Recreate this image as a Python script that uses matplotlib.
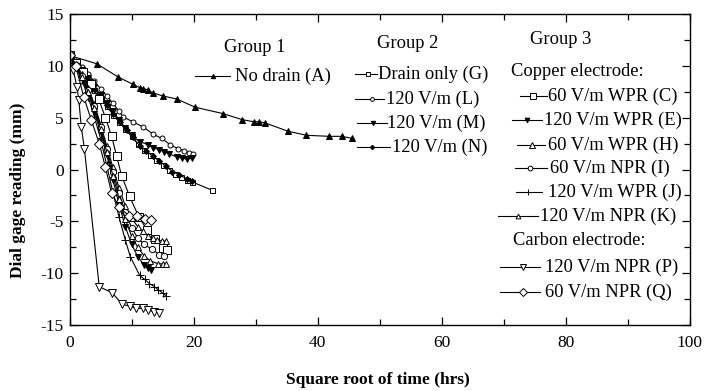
import matplotlib
matplotlib.use("Agg")
import matplotlib.pyplot as plt
from matplotlib.lines import Line2D
from matplotlib.ticker import MultipleLocator

plt.rcParams['font.family'] = ['Liberation Serif', 'DejaVu Serif']
plt.rcParams['axes.unicode_minus'] = False

# ---------------- data (square root of time in hrs, dial gage reading in mm) ----------------
A_x = [0, 4.4, 7.9, 10.3, 11.3, 11.9, 12.6, 13.4, 15.0, 17.3, 20.3, 24.7, 27.9, 29.8, 30.6, 31.5, 35.2, 38.2, 41.9, 43.9, 45.6]
A_y = [11.0, 10.2, 8.9, 8.2, 7.9, 7.8, 7.7, 7.4, 7.1, 6.8, 6.0, 5.4, 4.8, 4.6, 4.6, 4.5, 3.7, 3.3, 3.2, 3.2, 3.0]

G_x = [0, 1, 2, 3, 4, 5, 6, 7, 8, 9, 10, 11, 12, 13, 14, 15, 16, 17, 18, 19, 19.8, 23.0]
G_y = [11.0, 10.1, 9.3, 8.5, 7.7, 6.9, 6.1, 5.3, 4.6, 3.9, 3.2, 2.5, 1.9, 1.4, 0.9, 0.4, 0.0, -0.4, -0.7, -1.0, -1.2, -2.0]
L_x = [0, 1, 2, 3, 4, 5, 6, 7, 8, 8.6, 10.2, 11.9, 13.5, 14.9, 16.2, 17.5, 18.5, 19.3, 19.9]
L_y = [11.0, 10.5, 9.9, 9.2, 8.5, 7.8, 7.1, 6.4, 5.6, 5.1, 4.6, 4.1, 3.4, 3.0, 2.4, 2.0, 1.8, 1.6, 1.5]
M_x = [0, 1, 2, 3, 4, 5, 6, 7, 8, 9, 10, 11.3, 12.6, 13.5, 14.5, 15.3, 16.1, 17.4, 18.2, 18.9, 19.7]
M_y = [11.0, 10.3, 9.6, 8.8, 8.0, 7.2, 6.4, 5.6, 4.8, 4.0, 3.3, 2.7, 2.4, 2.1, 1.9, 1.7, 1.5, 1.2, 1.1, 1.0, 1.1]
N_x = [0, 1, 2, 3, 4, 5, 6, 7, 8.1, 9.2, 10.2, 11.3, 12.4, 13.4, 14.5, 15.6, 16.6, 17.7, 18.9, 19.7]
N_y = [11.0, 10.3, 9.5, 8.6, 7.8, 7.0, 6.2, 5.4, 4.6, 3.8, 3.1, 2.3, 1.8, 1.3, 0.8, 0.3, -0.2, -0.5, -0.9, -1.1]

C_x = [0, 1, 2.2, 3.5, 4.7, 5.8, 6.8, 7.6, 8.4, 9.7, 11.2, 12.5, 13.8, 15.1, 15.7]
C_y = [11.0, 10.3, 9.4, 8.2, 6.8, 5.0, 3.2, 1.3, -0.6, -2.6, -4.6, -5.8, -6.7, -7.6, -7.8]
E_x = [0, 1, 2, 3, 4, 5, 6, 7, 8, 9, 10, 11, 12, 12.6, 13.1]
E_y = [11.0, 10.0, 8.8, 7.3, 5.6, 3.6, 1.4, -1.0, -3.4, -5.5, -7.2, -8.4, -9.2, -9.5, -9.7]
H_x = [0, 1, 2, 3, 4, 5, 6, 7, 8, 9, 10, 11, 11.8, 12.6, 13.4, 14.1, 14.9, 15.6]
H_y = [11.0, 10.2, 9.2, 7.9, 6.3, 4.4, 2.3, 0.2, -1.8, -3.5, -4.7, -5.5, -5.9, -6.4, -6.6, -6.8, -6.9, -6.9]
I_x = [0, 1, 2, 3, 4, 5, 6, 7, 8, 9, 10, 11, 12, 13.3, 14.5, 15.3]
I_y = [11.0, 10.1, 9.0, 7.7, 6.1, 4.1, 2.0, -0.2, -2.3, -4.1, -5.6, -6.6, -7.2, -7.7, -8.2, -8.3]
J_x = [0, 1, 2, 3, 4, 5, 6, 7, 8, 9, 9.8, 11.3, 12.1, 12.9, 13.7, 14.3, 15.0, 15.6]
J_y = [11.0, 9.9, 8.6, 7.0, 5.1, 3.0, 0.4, -2.2, -4.6, -6.8, -8.4, -10.2, -10.6, -11.0, -11.3, -11.6, -11.9, -12.2]
K_x = [0, 1, 2, 3, 4, 5, 6, 7, 8, 9, 10, 11, 12, 13, 14.3, 15.0, 15.6]
K_y = [11.0, 10.0, 8.9, 7.5, 5.9, 3.9, 1.7, -0.6, -2.8, -4.8, -6.4, -7.5, -8.3, -8.8, -9.1, -9.1, -9.1]
P_x = [0, 0.6, 1.2, 1.5, 1.9, 2.4, 4.8, 6.9, 8.5, 9.8, 10.8, 11.8, 12.7, 13.7, 14.5]
P_y = [11.0, 9.6, 8.0, 6.7, 4.1, 2.0, -11.3, -11.9, -13.0, -13.2, -13.4, -13.4, -13.6, -13.7, -13.8]
Q_x = [0, 1, 2.3, 3.5, 4.8, 5.8, 6.8, 8.0, 9.6, 10.9, 12.1, 13.2]
Q_y = [11.0, 10.0, 7.0, 4.8, 2.5, 0.2, -2.3, -3.6, -4.5, -4.5, -4.8, -4.9]

x_ticks = [0, 20, 40, 60, 80, 100]
y_ticks = [-15, -10, -5, 0, 5, 10, 15]

group_titles = ["Group 1", "Group 2", "Group 3"]
sub_titles = ["Copper electrode:", "Carbon electrode:"]
labels = {
    "A": "No drain (A)",
    "G": "Drain only (G)",
    "L": "120 V/m (L)",
    "M": "120 V/m (M)",
    "N": "120 V/m (N)",
    "C": "60 V/m WPR (C)",
    "E": "120 V/m WPR (E)",
    "H": "60 V/m WPR (H)",
    "I": "60 V/m NPR (I)",
    "J": "120 V/m WPR (J)",
    "K": "120 V/m NPR (K)",
    "P": "120 V/m NPR (P)",
    "Q": "60 V/m NPR (Q)",
}

# ---------------- styles ----------------
series = {
    "A": (A_x, A_y, dict(marker='^', ms=4.2, mfc='black')),
    "G": (G_x, G_y, dict(marker='s', ms=3.6, mfc='white')),
    "L": (L_x, L_y, dict(marker='o', ms=3.6, mfc='white')),
    "M": (M_x, M_y, dict(marker='v', ms=4.2, mfc='black')),
    "N": (N_x, N_y, dict(marker='D', ms=3.0, mfc='black')),
    "C": (C_x, C_y, dict(marker='s', ms=5.5, mfc='white')),
    "E": (E_x, E_y, dict(marker='v', ms=4.5, mfc='black')),
    "H": (H_x, H_y, dict(marker='^', ms=5.0, mfc='white')),
    "I": (I_x, I_y, dict(marker='o', ms=4.5, mfc='white')),
    "J": (J_x, J_y, dict(marker='+', ms=6.0, mfc='black')),
    "K": (K_x, K_y, dict(marker='^', ms=4.5, mfc='white')),
    "P": (P_x, P_y, dict(marker='v', ms=6.0, mfc='white')),
    "Q": (Q_x, Q_y, dict(marker='D', ms=5.5, mfc='white')),
}

W, H = 706, 391
fig = plt.figure(figsize=(W / 100, H / 100), dpi=100)
ax = fig.add_axes([69.5 / W, 1 - 325 / H, 620 / W, 311 / H])

for key, (xs, ys, st) in series.items():
    ax.plot(xs, ys, color='black', lw=0.8, mec='black', mew=0.7,
            marker=st['marker'], ms=st['ms'], mfc=st['mfc'])

ax.set_xlim(0, 100)
ax.set_ylim(-15, 15)
ax.set_xticks(x_ticks)
ax.set_yticks(y_ticks)
ax.xaxis.set_minor_locator(MultipleLocator(10))
ax.yaxis.set_minor_locator(MultipleLocator(2.5))
ax.tick_params(which='both', direction='in', top=True, right=True, width=0.9)
ax.tick_params(which='major', length=6, labelsize=12.5)
ax.tick_params(axis='x', which='major', pad=7)
ax.tick_params(axis='y', which='major', pad=4)
ax.tick_params(which='minor', length=4.5)
for s in ax.spines.values():
    s.set_linewidth(1.0)

fig.text(18 / W, 1 - 190 / H, "Dial gage reading (mm)", rotation=90,
         ha='center', va='center', fontsize=12.5, fontweight='bold')
fig.text(378 / W, 1 - 380 / H, "Square root of time (hrs)",
         ha='center', va='center', fontsize=12.5, fontweight='bold')

FS = 13.3


def ftxt(px, py, s, ha='left'):
    fig.text(px / W, 1 - py / H, s, ha=ha, va='center', fontsize=FS)


def fentry(key, x0, x1, xm, py, tx):
    st = series[key][2]
    yy = 1 - py / H
    fig.add_artist(Line2D([x0 / W, x1 / W], [yy, yy], color='black', lw=0.8,
                          transform=fig.transFigure))
    fig.add_artist(Line2D([xm / W], [yy], color='black', marker=st['marker'],
                          ms=st['ms'] * 0.75, mfc=st['mfc'], mec='black', mew=0.7,
                          transform=fig.transFigure))
    ftxt(tx, py, labels[key])


# Group 1
ftxt(255, 47, group_titles[0], ha='center')
fentry("A", 195, 230, 213, 76, 235)
# Group 2
ftxt(408, 44, group_titles[1], ha='center')
fentry("G", 355, 377, 368, 74, 378)
fentry("L", 355, 384, 372, 99, 386)
fentry("M", 357, 387, 373, 123, 387)
fentry("N", 357, 390, 372, 147, 392)
# Group 3
ftxt(561, 40, group_titles[2], ha='center')
ftxt(511, 71, sub_titles[0])
fentry("C", 520, 547, 533, 96, 548)
fentry("E", 512, 542, 527, 120, 544)
fentry("H", 517, 545, 532, 145, 548)
fentry("I", 515, 547, 530, 168, 550)
fentry("J", 516, 542, 528, 192, 548)
fentry("K", 498, 538, 518, 216, 540)
ftxt(513, 241, sub_titles[1])
fentry("P", 500, 540, 523, 267, 545)
fentry("Q", 500, 540, 523, 292, 545)

fig.savefig("out.png", dpi=100)
